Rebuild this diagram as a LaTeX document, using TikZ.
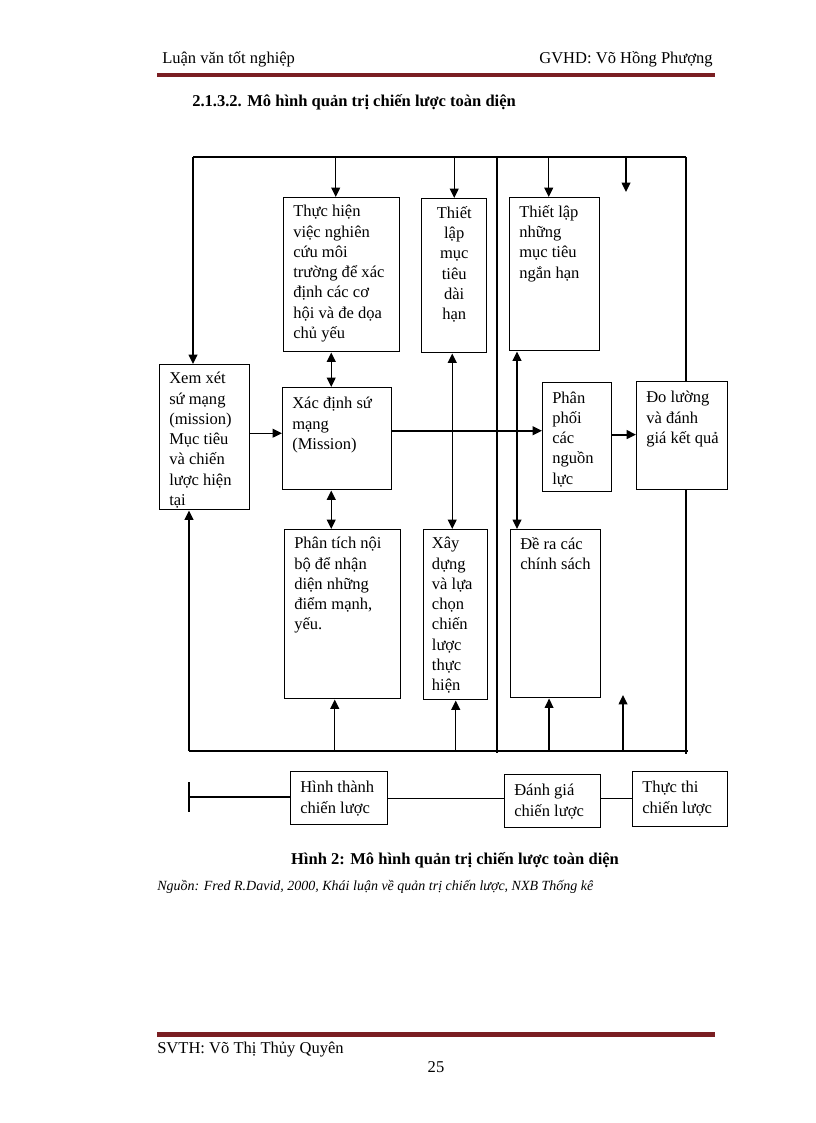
\documentclass[tikz,border=0pt]{standalone}
\usepackage{fontspec}
\setmainfont{Liberation Serif}
\usetikzlibrary{arrows.meta}
\definecolor{rulered}{RGB}{122,30,34}
\newcommand{\boxfont}{\fontsize{12.4}{15.2}\selectfont}
\newcommand{\pagefont}{\fontsize{12.4}{15}\selectfont}
\tikzset{
  blk/.style 2 args={draw, line width=1.1pt, anchor=north west, inner sep=0pt,
    minimum width=#1, minimum height=#2},
  lbl/.style={inner sep=0pt, font=\boxfont, execute at begin node=\strut},
  lt/.style={lbl, anchor=north west, align=left, xshift=7.5pt, yshift=-6pt},
  lc/.style={lbl, anchor=north, align=center, yshift=-6pt},
  arr/.style={-{Triangle[length=7pt,width=6.5pt]}, line width=1.1pt},
  dbl/.style={{Triangle[length=7pt,width=6.5pt]}-{Triangle[length=7pt,width=6.5pt]}, line width=1.1pt},
  bus/.style={line width=1.2pt},
  txt/.style={inner sep=0pt, font=\pagefont},
}
\begin{document}
\begin{tikzpicture}[x=0.75pt, y=-0.75pt]
  \useasboundingbox[fill=white] (0,0) rectangle (816,1123);

  % page head
  \node[txt, anchor=base west] (head) at (162,64) {Luận văn tốt nghiệp};
  \node[txt, anchor=base east] (gvhd) at (713,64) {GVHD: Võ Hồng Phượng};
  \fill[rulered] (157,73) rectangle (715,77.5);
  \node[txt, anchor=base west, font=\pagefont\bfseries] (title) at (192,107)
    {2.1.3.2. Mô hình quản trị chiến lược toàn diện};

  % boxes
  \node[blk={67.5pt}{108.75pt}, label={[lt]north west:Xem xét\\sứ mạng\\(mission)\\Mục tiêu\\và chiến\\lược hiện\\tại}] (xem) at (159,364) {};
  \node[blk={87pt}{115.5pt}, label={[lt]north west:Thực hiện\\việc nghiên\\cứu môi\\trường để xác\\định các cơ\\hội và đe dọa\\chủ yếu}] (thuc) at (283,197) {};
  \node[blk={48.75pt}{115.5pt}, label={[lc]north:Thiết\\lập\\mục\\tiêu\\dài\\hạn}] (dai) at (421,198) {};
  \node[blk={67.5pt}{114.75pt}, label={[lt]north west:Thiết lập\\những\\mục tiêu\\ngắn hạn}] (ngan) at (509,197) {};
  \node[blk={81.75pt}{76.5pt}, label={[lt, yshift=-1.5pt]north west:Xác định sứ\\mạng\\(Mission)}] (xac) at (282,387) {};
  \node[blk={51.75pt}{81.75pt}, label={[lt, yshift=-1pt]north west:Phân\\phối\\các\\nguồn\\lực}] (pp) at (542,382) {};
  \node[blk={68.25pt}{81pt}, label={[lt, yshift=-1.5pt]north west:Đo lường\\và đánh\\giá kết quả}] (do) at (636,381) {};
  \node[blk={87pt}{126.75pt}, label={[lt]north west:Phân tích nội\\bộ để nhận\\diện những\\điểm mạnh,\\yếu.}] (phan) at (284,529) {};
  \node[blk={48pt}{127.5pt}, label={[lt, xshift=-1pt]north west:Xây\\dựng\\và lựa\\chọn\\chiến\\lược\\thực\\hiện}] (xay) at (423,529) {};
  \node[blk={67.5pt}{126pt}, label={[lt]north west:Đề ra các\\chính sách}] (de) at (510,529) {};

  % frame lines
  \coordinate (tl) at (193,157);
  \coordinate (tr) at (686,157);
  \coordinate (bl) at (189,751);
  \coordinate (br) at (688,751);
  \coordinate (sept) at (497,157);
  \coordinate (sepb) at (497,753);
  \draw[bus] (tl) -- (tr);
  \draw[bus] (bl) -- (br);
  \draw[bus] (sept) -- (sepb);
  \draw[bus] (tr) -- (tr |- do.north);
  \draw[bus] (tr |- do.south) -- ([yshift=-2pt]tr |- br);

  % arrows from the top line
  \draw[arr] (tl) -- (tl |- xem.north);
  \draw[arr] ([xshift=-4.5pt]thuc.north |- tl) -- ([xshift=-4.5pt]thuc.north);
  \draw[arr] (dai.north |- tl) -- (dai.north);
  \draw[arr] ([xshift=-4.5pt]ngan.north |- tl) -- ([xshift=-4.5pt]ngan.north);
  \coordinate (fdown) at (626,192);
  \draw[arr] (fdown |- tl) -- (fdown);

  % arrows from the bottom line
  \draw[arr] (bl) -- (bl |- xem.south);
  \draw[arr] ([xshift=-6pt]phan.south |- bl) -- ([xshift=-6pt]phan.south);
  \draw[arr] (xay.south |- bl) -- (xay.south);
  \draw[arr] ([xshift=-5pt]de.south |- bl) -- ([xshift=-5pt]de.south);
  \coordinate (fup) at (623,695);
  \draw[arr] (fup |- bl) -- (fup);

  % links between boxes
  \draw[dbl] ([xshift=-4.5pt]xac.north) -- ([xshift=-4.5pt]xac.north |- thuc.south);
  \draw[dbl] ([xshift=-4.5pt]xac.south) -- ([xshift=-4.5pt]xac.south |- phan.north);
  \draw[dbl] ([xshift=-1.5pt]dai.south) -- ([xshift=-1.5pt]dai.south |- xay.north);
  \draw[dbl] ([xshift=6pt]ngan.south west) -- ([xshift=6pt]ngan.south west |- de.north);
  \draw[arr] ([yshift=3pt]xem.east) -- ([yshift=3pt]xem.east -| xac.west);
  \draw[arr, line width=1.4pt] ([yshift=6pt]xac.east) -- ([yshift=6pt]xac.east -| pp.west);
  \draw[arr, line width=1.4pt] ([yshift=2pt]pp.east) -- ([yshift=2pt]pp.east -| do.west);

  % stages
  \node[blk={72.75pt}{39.75pt}, line width=1pt, label={[lt, yshift=-1.5pt]north west:Hình thành\\chiến lược}] (hinh) at (290,771) {};
  \node[blk={72pt}{39.75pt}, line width=1pt, label={[lt, yshift=-1.5pt]north west:Đánh giá\\chiến lược}] (danh) at (504,774) {};
  \node[blk={71.25pt}{41.25pt}, line width=1pt, label={[lt, yshift=-1.5pt]north west:Thực thi\\chiến lược}] (thi) at (632,771) {};
  \coordinate (start) at (189,797);
  \draw[line width=1.1pt] ([yshift=11pt]start) -- ([yshift=-11pt]start);
  \draw[line width=0.8pt] (start) -- (start -| hinh.west);
  \draw[line width=0.8pt] (hinh.east) -- (hinh.east -| danh.west);
  \draw[line width=0.8pt] (danh.east |- hinh.east) -- (hinh.east -| thi.west);

  % caption
  \node[txt, anchor=base, font=\pagefont\bfseries] (cap) at (455,864)
    {Hình 2: Mô hình quản trị chiến lược toàn diện};
  \node[txt, anchor=base west, font=\fontsize{10.5}{12}\selectfont\itshape] (src) at (157,890)
    {Nguồn: Fred R.David, 2000, Khái luận về quản trị chiến lược, NXB Thống kê};

  % page foot
  \fill[rulered] (157,1032) rectangle (715,1036.5);
  \node[txt, anchor=base west] (svth) at (157,1053) {SVTH: Võ Thị Thủy Quyên};
  \node[txt, anchor=base] (page) at (436,1072) {25};
\end{tikzpicture}
\end{document}
